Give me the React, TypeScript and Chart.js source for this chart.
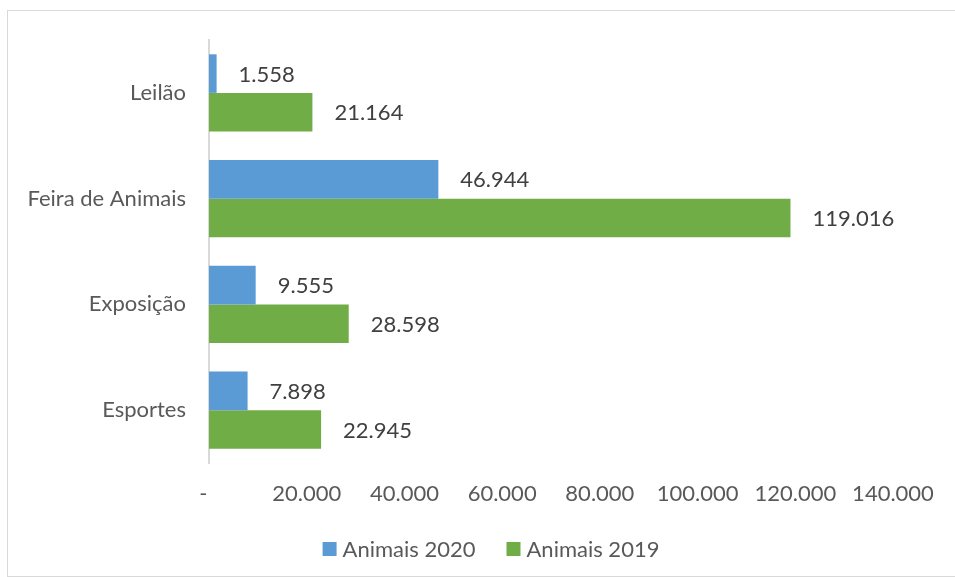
import React, { useEffect, useRef } from "react";
import { Chart, registerables } from "chart.js";

Chart.register(...registerables);

const categories = ["Leilão", "Feira de Animais", "Exposição", "Esportes"];
const series2020 = [1558, 46944, 9555, 7898];
const series2019 = [21164, 119016, 28598, 22945];
const seriesNames = ["Animais 2020", "Animais 2019"];
const seriesColors = ["#5b9bd5", "#70ad47"];
const xTicks = [0, 20000, 40000, 60000, 80000, 100000, 120000, 140000];

const FONT = "Lato, 'Open Sans', sans-serif";
const FS = 22;

function fmt(v: number): string {
  if (v === 0) return "-  ";
  return String(Math.round(v)).replace(/\B(?=(\d{3})+(?!\d))/g, ".");
}

const valueLabels = {
  id: "valueLabels",
  afterDatasetsDraw(chart: any) {
    const ctx = chart.ctx;
    ctx.save();
    ctx.font = `${FS}px ${FONT}`;
    ctx.fillStyle = "#404040";
    ctx.textAlign = "left";
    ctx.textBaseline = "middle";
    chart.data.datasets.forEach((ds: any, di: number) => {
      const meta = chart.getDatasetMeta(di);
      meta.data.forEach((el: any, i: number) => {
        ctx.fillText(fmt(ds.data[i]), el.x + 22, el.y + 1);
      });
    });
    ctx.restore();
  },
};

const bottomLegend = {
  id: "bottomLegend",
  afterDraw(chart: any) {
    const ctx = chart.ctx;
    ctx.save();
    ctx.font = `${FS}px ${FONT}`;
    ctx.textBaseline = "middle";
    ctx.textAlign = "left";
    const box = 14;
    const gapText = 6;
    const gapItem = 31;
    const items = chart.data.datasets.map((ds: any) => ({
      label: ds.label,
      color: ds.backgroundColor,
      w: ctx.measureText(ds.label).width,
    }));
    let total = 0;
    items.forEach((it: any, i: number) => {
      total += box + gapText + it.w + (i < items.length - 1 ? gapItem : 0);
    });
    const cx = 483;
    const cy = 538;
    let x = cx - total / 2;
    items.forEach((it: any) => {
      ctx.fillStyle = it.color;
      ctx.fillRect(x, cy - box / 2, box, box);
      ctx.fillStyle = "#595959";
      ctx.fillText(it.label, x + box + gapText, cy + 1);
      x += box + gapText + it.w + gapItem;
    });
    ctx.restore();
  },
};

export default function App() {
  const ref = useRef<HTMLCanvasElement | null>(null);
  useEffect(() => {
    if (!ref.current) return;
    const chart = new Chart(ref.current, {
      type: "bar",
      data: {
        labels: categories,
        datasets: [
          { label: seriesNames[0], data: series2020, backgroundColor: seriesColors[0], borderWidth: 0 },
          { label: seriesNames[1], data: series2019, backgroundColor: seriesColors[1], borderWidth: 0 },
        ],
      },
      options: {
        indexAxis: "y",
        animation: false,
        responsive: false,
        maintainAspectRatio: false,
        layout: { padding: { top: 29, right: 62, bottom: 47, left: 0 } },
        datasets: { bar: { categoryPercentage: 0.73, barPercentage: 1 } },
        scales: {
          x: {
            min: 0,
            max: 140000,
            afterBuildTicks(scale: any) {
              scale.ticks = xTicks.map((v) => ({ value: v }));
            },
            afterFit(scale: any) {
              scale.height = 66;
            },
            grid: { display: false, drawTicks: false },
            border: { display: false },
            ticks: {
              padding: 18,
              color: "#595959",
              font: { family: FONT, size: FS },
              maxRotation: 0,
              autoSkip: false,
              callback: (v: any) => fmt(Number(v)),
            },
          },
          y: {
            afterFit(scale: any) {
              scale.width = 201;
              scale.paddingTop = 0;
              scale.paddingBottom = 0;
            },
            grid: { display: false, drawTicks: false },
            border: { display: true, color: "#d9d9d9", width: 2 },
            ticks: {
              padding: 23,
              color: "#595959",
              font: { family: FONT, size: FS },
            },
          },
        },
        plugins: {
          legend: { display: false },
          tooltip: { enabled: false },
        },
      },
      plugins: [valueLabels, bottomLegend],
    });
    return () => chart.destroy();
  }, []);
  return (
    <div
      style={{
        position: "absolute",
        left: 7,
        top: 10,
        width: 953,
        height: 565,
        border: "1px solid #d9d9d9",
        background: "#fff",
      }}
    >
      <canvas ref={ref} width={947} height={565} style={{ display: "block" }} />
    </div>
  );
}
